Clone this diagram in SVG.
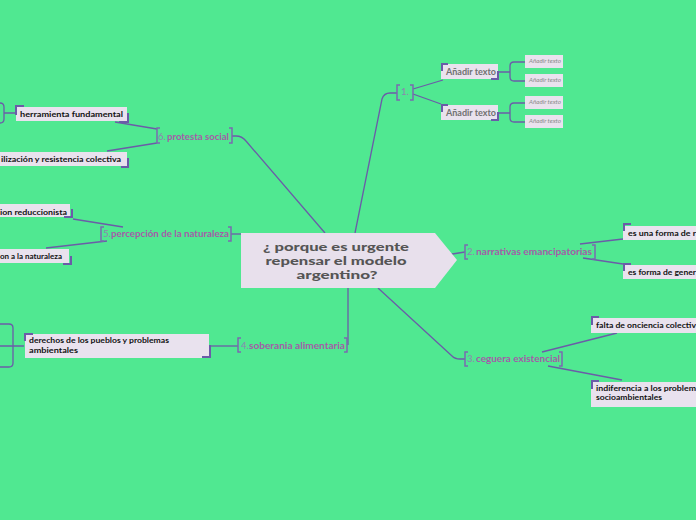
<svg xmlns="http://www.w3.org/2000/svg" width="696" height="520" viewBox="0 0 696 520">
<style>
.bg{fill:#50e891}
.ln{fill:none;stroke:#6b5ca8;stroke-width:1.3}
.br{fill:none;stroke:#7a6ab0;stroke-width:1.5}
.cn{fill:none;stroke:#6b5ba8;stroke-width:2}
.box{fill:#e9e2ee}
.leaf{font-family:Lato,"Open Sans",sans-serif;font-weight:bold;font-size:8px;fill:#111}
.lab{font-family:Lato,"Open Sans",sans-serif;font-weight:bold;font-size:9.5px;fill:#a45ca8}
.num{font-family:Lato,"Open Sans",sans-serif;font-size:9.5px;fill:#8d84b0}
.add{font-family:Lato,"Open Sans",sans-serif;font-weight:bold;font-size:8.5px;fill:#707070}
.sm{font-family:Lato,"Open Sans",sans-serif;font-style:italic;font-size:5.5px;fill:#8a8a8a}
.ctr{font-family:Lato,"Open Sans",sans-serif;font-weight:900;font-size:11.5px;fill:#555;text-anchor:middle}
</style>
<rect class="bg" x="0" y="0" width="696" height="520"/>
<g id="connectors">
<path class="ln" d="M325,233 L246,141 Q242,136 236,136 H232"/>
<path class="ln" d="M115,122 L157,129 M157,143 L107,151"/>
<path class="ln" d="M231,234 H241"/>
<path class="ln" d="M73,219 L123,227 M107,241 L46,248"/>
<path class="ln" d="M348,288 V345"/>
<path class="ln" d="M210,346 H238"/>
<path class="ln" d="M355,233 L382,99 Q384,93 390,93 H397"/>
<path class="ln" d="M413,89 L443,80 M413,94 L441,104"/>
<path class="ln" d="M525,62 H514 Q510,62 510,66 V77 Q510,81 514,81 H525 M498,72 H510"/>
<path class="ln" d="M525,103 H514 Q510,103 510,107 V118 Q510,122 514,122 H525 M498,113 H510"/>
<path class="ln" d="M446,255 L465,252"/>
<path class="ln" d="M580,244 L623,239 M583,258 L623,264"/>
<path class="ln" d="M378,288 L452,356 Q455,359 460,359 H465"/>
<path class="ln" d="M542,352 L617,333 M548,366 L622,380"/>
<path class="ln" d="M0,103 Q4,103 4,107 V119 Q4,123 0,123 M4,113 H15"/>
<path class="ln" d="M0,324 H9 Q13,324 13,328 V363 Q13,367 9,367 H0 M0,346 H24"/>
</g>
<g id="center">
<polygon points="241,233 435,233 457,260 435,288 241,288" fill="#e8e0ec"/>
<text class="ctr" x="336" y="251" textLength="146" lengthAdjust="spacingAndGlyphs">¿ porque es urgente</text>
<text class="ctr" x="336" y="265" textLength="141" lengthAdjust="spacingAndGlyphs">repensar el modelo</text>
<text class="ctr" x="337" y="279" textLength="81" lengthAdjust="spacingAndGlyphs">argentino?</text>
</g>
<g id="b6">
<path class="br" d="M160,128 H157 V143 H160 M229,128 H232 V143 H229"/>
<text class="num" x="158" y="140">6.</text>
<text class="lab" x="167" y="140" textLength="62" lengthAdjust="spacingAndGlyphs">protesta social</text>
</g>
<g id="l6a">
<rect class="box" x="16" y="107" width="111" height="14"/>
<path class="cn" d="M16,115 V106 H24 M128,113 V122 H119"/>
<text class="leaf" x="20" y="117" textLength="103" lengthAdjust="spacingAndGlyphs">herramienta fundamental</text>
</g>
<g id="l6b">
<rect class="box" x="0" y="152" width="127" height="14"/>
<path class="cn" d="M128,158 V167 H121"/>
<text class="leaf" x="1" y="162" textLength="120" lengthAdjust="spacingAndGlyphs">ilización y resistencia colectiva</text>
</g>
<g id="b5">
<path class="br" d="M104,227 H101 V241 H104 M228,227 H231 V241 H228"/>
<text class="num" x="103" y="237">5.</text>
<text class="lab" x="111" y="237" textLength="118" lengthAdjust="spacingAndGlyphs">percepción de la naturaleza</text>
</g>
<g id="l5a">
<rect class="box" x="0" y="204" width="70" height="13"/>
<path class="cn" d="M72,209 V217 H64"/>
<text class="leaf" x="0" y="215" textLength="67" lengthAdjust="spacingAndGlyphs">ion reduccionista</text>
</g>
<g id="l5b">
<rect class="box" x="0" y="249" width="69" height="14"/>
<path class="cn" d="M71,256 V264 H63"/>
<text class="leaf" x="0" y="259" textLength="62" lengthAdjust="spacingAndGlyphs">on a la naturaleza</text>
</g>
<g id="b4">
<path class="br" d="M241,338 H238 V352 H241 M344,338 H347 V352 H344"/>
<text class="num" x="241" y="349">4.</text>
<text class="lab" x="249" y="349" textLength="96" lengthAdjust="spacingAndGlyphs">soberania alimentaria</text>
</g>
<g id="l4a">
<rect class="box" x="25" y="334" width="184" height="24"/>
<path class="cn" d="M25,341 V334 H33 M210,345 V357 H202"/>
<text class="leaf" x="29" y="343" textLength="140" lengthAdjust="spacingAndGlyphs">derechos de los pueblos y problemas</text>
<text class="leaf" x="29" y="353" textLength="49" lengthAdjust="spacingAndGlyphs">ambientales</text>
</g>
<g id="b1">
<path class="br" d="M400,85 H397 V100 H400 M410,85 H413 V100 H410"/>
<text class="num" x="401" y="95">1.</text>
</g>
<g id="a1">
<rect class="box" x="441" y="64" width="57" height="15"/>
<path class="cn" d="M442,71 V64 H448 M498,71 V79 H491"/>
<text class="add" x="446" y="75" textLength="50" lengthAdjust="spacingAndGlyphs">Añadir texto</text>
</g>
<g id="a2">
<rect class="box" x="441" y="105" width="57" height="15"/>
<path class="cn" d="M442,112 V105 H448 M498,112 V120 H491"/>
<text class="add" x="446" y="116" textLength="50" lengthAdjust="spacingAndGlyphs">Añadir texto</text>
</g>
<g id="s1"><rect class="box" x="525" y="55" width="38" height="13"/><text class="sm" x="529" y="63" textLength="32" lengthAdjust="spacingAndGlyphs">Añadir texto</text></g>
<g id="s2"><rect class="box" x="525" y="74" width="38" height="13"/><text class="sm" x="529" y="82" textLength="32" lengthAdjust="spacingAndGlyphs">Añadir texto</text></g>
<g id="s3"><rect class="box" x="525" y="96" width="38" height="13"/><text class="sm" x="529" y="104" textLength="32" lengthAdjust="spacingAndGlyphs">Añadir texto</text></g>
<g id="s4"><rect class="box" x="525" y="115" width="38" height="13"/><text class="sm" x="529" y="123" textLength="32" lengthAdjust="spacingAndGlyphs">Añadir texto</text></g>
<g id="b2">
<path class="br" d="M468,245 H465 V259 H468 M592,245 H595 V259 H592"/>
<text class="num" x="467" y="255">2.</text>
<text class="lab" x="476" y="255" textLength="116" lengthAdjust="spacingAndGlyphs">narrativas emancipatorias</text>
</g>
<g id="l2a">
<rect class="box" x="623" y="226" width="73" height="14"/>
<path class="cn" d="M624,231 V224 H631"/>
<text class="leaf" x="628" y="236" textLength="68" lengthAdjust="spacingAndGlyphs">es una forma de r</text>
</g>
<g id="l2b">
<rect class="box" x="623" y="265" width="73" height="14"/>
<path class="cn" d="M624,271 V264 H631"/>
<text class="leaf" x="628" y="275" textLength="68" lengthAdjust="spacingAndGlyphs">es forma de gener</text>
</g>
<g id="b3">
<path class="br" d="M468,352 H465 V366 H468 M559,352 H562 V366 H559"/>
<text class="num" x="467" y="362">3.</text>
<text class="lab" x="476" y="362" textLength="84" lengthAdjust="spacingAndGlyphs">ceguera existencial</text>
</g>
<g id="l3a">
<rect class="box" x="591" y="318" width="105" height="15"/>
<path class="cn" d="M592,325 V317 H599"/>
<text class="leaf" x="596" y="328" textLength="100" lengthAdjust="spacingAndGlyphs">falta de onciencia colectiv</text>
</g>
<g id="l3b">
<rect class="box" x="591" y="382" width="105" height="25"/>
<path class="cn" d="M592,389 V381 H599"/>
<text class="leaf" x="596" y="391" textLength="100" lengthAdjust="spacingAndGlyphs">indiferencia a los problem</text>
<text class="leaf" x="596" y="400" textLength="66" lengthAdjust="spacingAndGlyphs">socioambientales</text>
</g>
</svg>
